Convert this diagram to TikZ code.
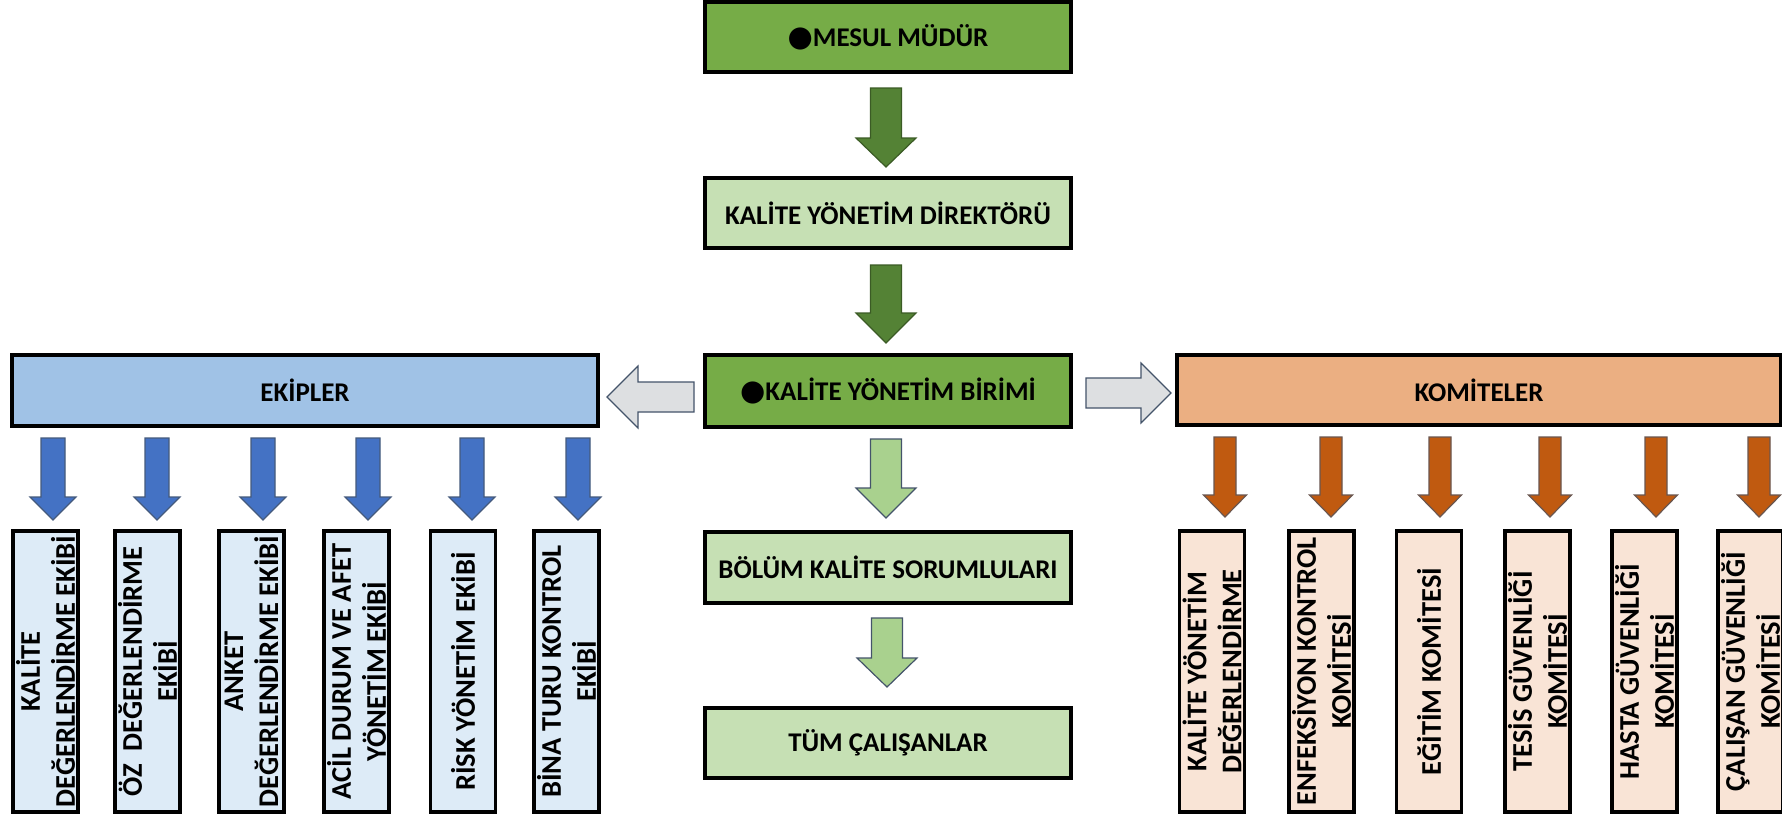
\documentclass[tikz,border=0pt]{standalone}
\usepackage{fontspec}
\setmainfont{Carlito}
\newfontfamily\dejavu{DejaVu Sans}
\definecolor{gDark}{HTML}{76AC47}
\definecolor{gLight}{HTML}{C6E0B4}
\definecolor{gArrow}{HTML}{548235}
\definecolor{gArrowL}{HTML}{A9D18E}
\definecolor{bMain}{HTML}{A0C2E6}
\definecolor{bArrow}{HTML}{4472C4}
\definecolor{bLight}{HTML}{DDEBF7}
\definecolor{oMain}{HTML}{EBAF82}
\definecolor{oArrow}{HTML}{C05A10}
\definecolor{oLight}{HTML}{F9E4D6}
\definecolor{grayArrow}{HTML}{DDDFE1}
\definecolor{arrowLine}{HTML}{44546A}
\newcommand{\dnarrow}[7]{%
  \draw[#1] (#2-#6,#3) -- (#2+#6,#3) -- (#2+#6,#4) -- (#2+#7,#4) -- (#2,#5)
    -- (#2-#7,#4) -- (#2-#6,#4) -- cycle;}
\newcommand{\blt}{{\dejavu\fontsize{29}{29}\selectfont ●}}
\begin{document}
\begin{tikzpicture}[x=1pt,y=-1pt,
  box/.style={draw=black, line width=3.5pt, inner sep=0pt, align=center,
    font=\bfseries\fontsize{27}{33}\selectfont},
  vbox/.style={box, rotate=90, minimum width=281, minimum height=65,
    font=\bfseries\fontsize{28.5}{35}\selectfont},
  darrow/.style={fill=gArrow, draw=gArrow!70!black, line width=1.2pt, line join=miter},
  larrow/.style={fill=gArrowL, draw=arrowLine, line width=1.2pt, line join=miter},
  barrow/.style={fill=bArrow, draw=arrowLine!80!bArrow, line width=1.2pt, line join=miter},
  oarrow/.style={fill=oArrow, draw=arrowLine!70!oArrow, line width=1.2pt, line join=miter},
  harrow/.style={fill=grayArrow, draw=arrowLine, line width=1.2pt, line join=miter}]
\useasboundingbox (0,0) rectangle (1782,815);
\clip (0,0) rectangle (1782,815);
\fill[white] (0,0) rectangle (1782,815);

% central column
\node[box, fill=gDark, minimum width=366, minimum height=70] (mesul) at (888,37) {\blt MESUL MÜDÜR};
\node[box, fill=gLight, minimum width=366, minimum height=70] (dir) at (888,213) {KALİTE YÖNETİM DİREKTÖRÜ};
\node[box, fill=gDark, minimum width=366, minimum height=72] (birim) at (888,391) {\blt KALİTE YÖNETİM BİRİMİ};
\node[box, fill=gLight, minimum width=366, minimum height=71] (bolum) at (888,567.5) {BÖLÜM KALİTE SORUMLULARI};
\node[box, fill=gLight, minimum width=366, minimum height=70] (tum) at (888,743) {TÜM ÇALIŞANLAR};

\dnarrow{darrow}{886}{88}{138}{167}{15.5}{30}
\dnarrow{darrow}{886}{265}{313}{343}{15.5}{30}
\dnarrow{larrow}{886}{439}{488}{518}{15.5}{30}
\dnarrow{larrow}{887}{618}{658}{687}{15.5}{30}

% side headers
\node[box, fill=bMain, minimum width=586, minimum height=71] (ekip) at (305,390.5) {EKİPLER};
\node[box, fill=oMain, minimum width=604, minimum height=70] (komite) at (1479,390) {KOMİTELER};

% horizontal arrows
\draw[harrow] (694,382) -- (638,382) -- (638,366) -- (607,397) -- (638,428) -- (638,412) -- (694,412) -- cycle;
\draw[harrow] (1086,378) -- (1141,378) -- (1141,363) -- (1171,393) -- (1141,423) -- (1141,408) -- (1086,408) -- cycle;

% team arrows
\foreach \cx in {53,157,263,368,472,578}{\dnarrow{barrow}{\cx}{438}{497}{520}{12}{23}}
% committee arrows
\foreach \cx in {1225,1331,1440,1550,1656,1759}{\dnarrow{oarrow}{\cx}{437}{495}{517}{11}{21.5}}

% team boxes
\node[vbox, fill=bLight] (e1) at (45.5,671.5) {KALİTE\\DEĞERLENDİRME EKİBİ};
\node[vbox, fill=bLight] (e2) at (147.5,671.5) {ÖZ~~DEĞERLENDİRME\\EKİBİ};
\node[vbox, fill=bLight] (e3) at (251.5,671.5) {ANKET\\DEĞERLENDİRME EKİBİ};
\node[vbox, fill=bLight] (e4) at (356.5,671.5) {ACİL DURUM VE AFET\\YÖNETİM EKİBİ};
\node[vbox, fill=bLight] (e5) at (463,671.5) {RİSK YÖNETİM EKİBİ};
\node[vbox, fill=bLight] (e6) at (566.5,671.5) {BİNA TURU KONTROL\\EKİBİ};

% committee boxes
\node[vbox, fill=oLight] (k1) at (1212,671.5) {KALİTE YÖNETİM\\DEĞERLENDİRME};
\node[vbox, fill=oLight] (k2) at (1321.5,671.5) {ENFEKSİYON KONTROL\\KOMİTESİ};
\node[vbox, fill=oLight] (k3) at (1429,671.5) {EĞİTİM KOMİTESİ};
\node[vbox, fill=oLight] (k4) at (1537.5,671.5) {TESİS GÜVENLİĞİ\\KOMİTESİ};
\node[vbox, fill=oLight] (k5) at (1644.5,671.5) {HASTA GÜVENLİĞİ\\KOMİTESİ};
\node[vbox, fill=oLight] (k6) at (1750.5,671.5) {ÇALIŞAN GÜVENLİĞİ\\KOMİTESİ};
\end{tikzpicture}
\end{document}
